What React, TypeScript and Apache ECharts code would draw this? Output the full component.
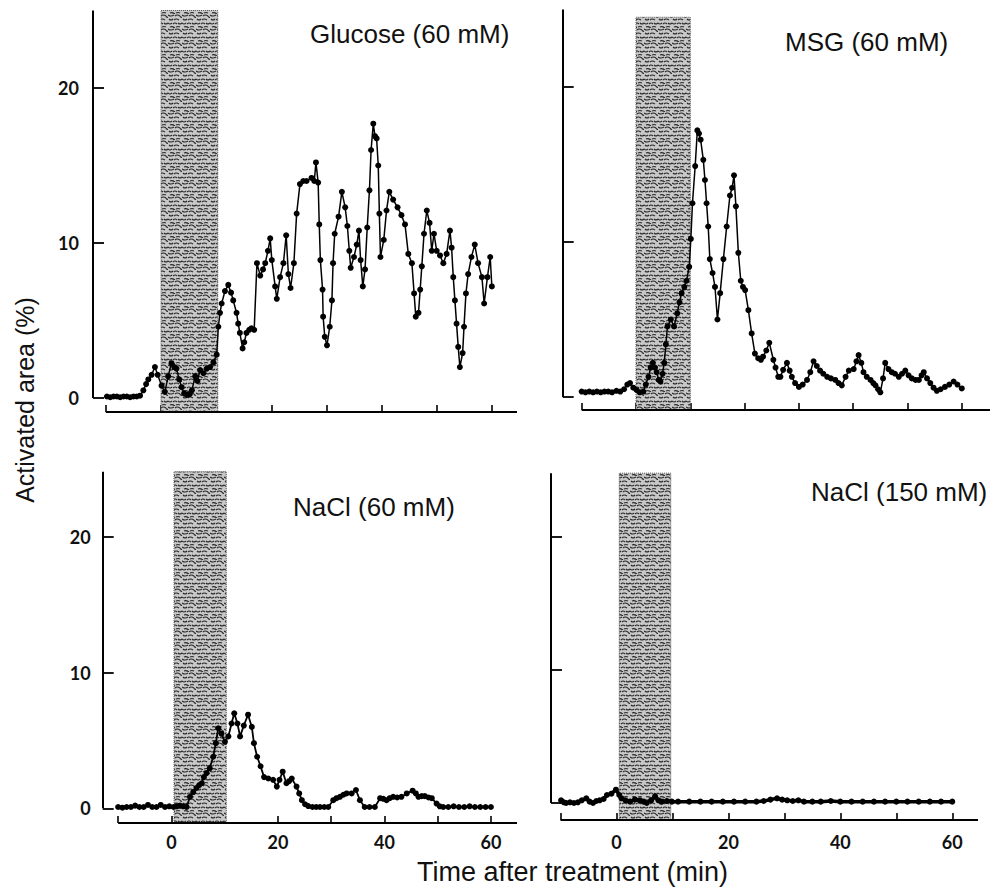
import React, { useEffect, useRef } from "react";
import * as echarts from "echarts";

// ---------- data ----------
const glucoseT = [-9.8,-9.2,-8.6,-8.0,-7.4,-6.8,-6.2,-5.6,-5.0,-4.4,-3.8,-3.2,-2.7,-2.3,-1.7,-1.1,-0.6,0.1,0.7,1.3,1.9,2.4,2.8,3.3,3.75,4.2,4.7,5.2,5.6,6.2,6.6,7.1,7.7,8.3,8.9,9.5,10.1,10.4,10.7,11.0,11.6,12.2,12.7,13.1,13.7,14.0,14.3,14.8,15.1,15.5,16.0,16.4,16.9,17.4,18.0,18.5,18.9,19.4,19.8,20.1,20.7,21.0,21.6,22.2,22.7,23.1,23.5,24.1,24.6,25.2,25.8,26.4,27.3,27.8,28.1,28.5,28.7,28.9,29.3,29.4,29.7,30.1,30.6,31.0,31.2,31.5,32.2,32.8,33.4,33.8,34.15,34.4,35.0,35.5,35.9,36.2,36.6,37.0,37.4,37.8,38.1,38.5,38.8,39.1,39.4,39.6,39.8,40.4,40.9,41.4,42.1,42.9,43.6,44.25,44.85,45.5,45.9,46.2,46.7,47.0,47.3,47.7,48.2,48.7,49.1,49.5,50.0,50.6,51.2,51.8,52.4,52.7,53.0,53.3,53.6,53.9,54.2,54.7,54.95,55.3,55.7,56.3,56.9,57.5,58.2,58.6,59.2,59.7,60.0];
const glucoseV = [0.1,0.05,0.1,0.1,0.05,0.1,0.1,0.05,0.1,0.1,0.15,0.5,0.9,1.2,1.5,2.0,1.5,0.8,0.4,1.4,2.25,2.0,1.9,1.2,0.7,0.3,0.2,0.25,0.5,1.4,1.1,1.8,1.6,1.9,2.0,2.3,2.8,4.6,5.5,6.1,6.9,7.3,6.8,6.3,5.5,4.8,4.2,3.2,3.6,4.2,4.4,4.5,4.4,8.7,7.9,8.3,8.7,9.5,10.3,8.9,7.2,6.4,7.8,8.7,10.5,8.0,7.1,8.7,11.9,13.8,14.0,14.0,14.2,14.0,15.2,13.9,11.2,8.9,7.0,5.25,3.95,3.4,4.6,6.3,8.7,10.6,11.7,13.3,12.3,11.1,9.5,8.4,9.1,9.9,10.8,8.9,7.2,8.3,11.0,13.4,16.0,17.7,16.9,16.75,15.0,11.9,9.1,10.2,12.1,13.3,12.8,12.3,11.8,11.2,9.3,8.7,6.75,5.25,5.5,7.0,8.5,10.6,12.1,11.3,9.5,10.6,9.5,9.2,8.7,9.3,10.8,9.7,7.8,6.3,4.8,3.3,2.0,2.9,4.6,6.75,8.0,9.1,9.9,8.7,7.8,6.1,7.8,9.1,7.2];

const msgT = [-10,-9.3,-8.6,-7.9,-7.2,-6.5,-5.8,-5.1,-4.4,-3.6,-2.9,-2.2,-1.6,-1.1,-0.5,0.1,0.7,1.35,1.8,2.3,2.7,3.1,3.5,3.8,4.2,4.5,4.9,5.2,5.5,5.8,6.4,7.0,7.6,8.0,8.4,8.9,9.3,9.8,10.1,10.4,10.9,11.3,11.6,11.9,12.4,12.7,13.0,13.3,13.6,14.1,14.55,15.0,15.5,16.1,16.7,17.3,17.7,18.05,18.4,18.85,19.3,19.7,20.1,20.7,21.3,21.9,22.5,23.0,23.4,24.0,24.55,25.3,25.7,26.2,26.6,27.1,27.8,28.3,28.7,29.3,30.0,30.7,31.5,32.1,32.7,33.3,33.9,34.5,35.2,35.9,36.7,37.3,37.9,38.6,39.2,40.1,40.6,41.0,41.5,41.9,42.5,43.2,43.7,44.1,44.6,45.0,45.5,45.9,46.5,47.1,47.7,48.4,49.0,49.6,50.2,50.8,51.5,52.1,52.6,53.0,53.6,54.2,54.8,55.4,56.1,56.9,57.7,58.5,59.2,60.0];
const msgV = [0.35,0.3,0.35,0.3,0.35,0.3,0.35,0.35,0.3,0.4,0.35,0.5,0.8,0.9,0.6,0.45,0.3,0.35,0.8,1.3,1.9,2.2,1.9,1.6,1.1,1.0,1.5,2.2,3.4,4.55,5.0,4.55,5.4,6.1,6.7,7.1,7.5,8.4,10.2,12.5,14.9,17.2,17.0,16.6,15.3,14.0,12.5,11.0,8.9,8.0,7.1,5.0,6.7,8.9,11.0,13.0,13.5,14.3,12.3,9.3,7.5,7.1,6.9,5.6,4.1,2.8,2.5,2.4,2.6,3.0,3.5,2.4,1.9,1.3,1.3,1.75,2.2,1.7,1.3,0.9,0.65,0.8,1.1,1.6,2.3,2.0,1.7,1.5,1.3,1.2,1.1,0.9,0.75,1.3,1.7,1.8,2.3,2.7,2.2,1.6,1.3,1.1,0.9,0.75,0.5,0.3,1.2,2.2,1.8,1.6,1.5,1.3,1.5,1.7,1.4,1.2,1.1,1.1,1.4,1.6,1.2,0.9,0.6,0.4,0.5,0.65,0.8,1.0,0.8,0.55];

const nacl60T = [-10,-9.2,-8.4,-7.6,-6.8,-6.0,-5.2,-4.4,-3.6,-2.8,-2.0,-1.2,-0.4,0.4,1.0,1.6,2.2,2.85,3.5,4.1,4.7,5.2,5.7,6.1,6.6,7.2,7.85,8.35,8.8,9.4,10.05,10.7,11.3,11.8,12.4,12.9,13.6,14.4,15.1,15.5,16.1,16.75,17.4,18.2,19.1,19.8,20.3,20.9,21.6,22.1,22.6,23.5,24.0,24.5,25.1,25.7,26.5,27.2,27.9,28.7,29.45,30.4,31.0,31.65,32.3,32.9,33.85,34.65,35.4,36.3,37.2,38.2,39.2,39.8,40.4,41.0,41.65,42.4,43.2,44.2,45.3,45.9,46.4,47.0,47.6,48.3,48.9,49.8,50.4,51.05,52,53,54,55,56,57,58,59,60];
const nacl60V = [0.1,0.05,0.1,0.1,0.2,0.1,0.1,0.25,0.1,0.1,0.25,0.1,0.15,0.1,0.15,0.2,0.15,0.1,0.85,1.2,1.5,1.7,1.85,2.3,2.6,2.95,3.8,4.8,5.9,5.5,4.9,5.3,6.25,7.0,6.25,5.3,6.1,6.9,6.0,4.8,3.8,3.1,2.3,2.2,2.1,1.6,2.1,2.7,1.85,2.0,2.2,1.6,1.1,0.6,0.3,0.17,0.1,0.1,0.1,0.1,0.1,0.6,0.75,0.85,1.0,1.1,1.1,1.35,0.6,0.1,0.1,0.1,0.75,0.7,0.6,0.75,0.85,0.8,0.85,1.1,1.3,1.1,0.85,0.9,0.9,0.8,0.75,0.35,0.15,0.1,0.1,0.15,0.1,0.1,0.15,0.1,0.1,0.1,0.1];

const nacl150T = [-9.9,-9.4,-9.0,-8.3,-7.6,-6.9,-6.2,-5.4,-4.8,-4.2,-3.6,-3.0,-2.3,-1.7,-0.9,-0.1,0.5,0.9,1.6,2.4,3.3,4.2,4.8,5.4,6.2,6.9,7.5,8.1,9.0,9.9,11,13,15,17,19,21,23,25,26.3,27.5,28.7,29.6,30.5,31.5,32.5,33.5,35,36.5,38.3,40,42,44,46,48,50,52,54,56,58,60];
const nacl150V = [0.2,0.05,0.0,0.05,0.0,0.05,0.2,0.35,0.1,0.0,0.15,0.2,0.3,0.6,0.7,1.0,0.6,0.35,0.2,0.1,0.25,0.2,0.1,0.0,0.2,0.5,0.2,0.1,0.15,0.1,0.1,0.1,0.1,0.1,0.1,0.1,0.1,0.1,0.15,0.25,0.35,0.25,0.2,0.15,0.2,0.1,0.1,0.1,0.15,0.1,0.1,0.1,0.1,0.1,0.1,0.1,0.1,0.1,0.1,0.1];

const panelTitles = ["Glucose (60 mM)", "MSG (60 mM)", "NaCl (60 mM)", "NaCl (150 mM)"];
const stimStart = [0, 0, 0.5, 0.5];
const stimEnd = [10.3, 10, 10.3, 9.7];
const yTickValues = [0, 10, 20];
const xTickValues = [-10, 0, 10, 20, 30, 40, 50, 60];
const xLabelValues = [0, 20, 40, 60];
const yAxisTitle = "Activated area (%)";
const xAxisTitle = "Time after treatment (min)";

const seriesT = [glucoseT, msgT, nacl60T, nacl150T];
const seriesV = [glucoseV, msgV, nacl60V, nacl150V];

// ---------- layout (styles / positions) ----------
const layout = [
  { left: 93, top: 10.5, width: 424, height: 401.5, xMin: -12.33, xMax: 64.56, yMin: -0.9, yTop: 25, shadeTop: 25, showX: false, showY: true, xMargin: 10, yMargin: 14, lw: 1.5, title: [310, 34] },
  { left: 562.7, top: 9.5, width: 427.3, height: 400.5, xMin: -13.5, xMax: 65.2, yMin: -0.84, yTop: 25, shadeTop: 24.5, showX: false, showY: false, xMargin: 10, yMargin: 14, lw: 1.5, title: [785, 42] },
  { left: 102.7, top: 469, width: 414.3, height: 354, xMin: -12.9, xMax: 64.9, yMin: -1.08, yTop: 24.8, shadeTop: 24.8, showX: true, showY: true, xMargin: 10, yMargin: 12, lw: 1.8, title: [293, 507] },
  { left: 551, top: 470.5, width: 427, height: 349.5, xMin: -11.7, xMax: 64.6, yMin: -1.28, yTop: 24.8, shadeTop: 24.8, showX: true, showY: false, xMargin: 13, yMargin: 12, lw: 3.5, title: [811, 492] },
];

function makePattern(): HTMLCanvasElement {
  const c = document.createElement("canvas");
  c.width = 14;
  c.height = 14;
  const ctx = c.getContext("2d")!;
  ctx.fillStyle = "#c8c8c8";
  ctx.fillRect(0, 0, 14, 14);
  ctx.strokeStyle = "#2a2a2a";
  ctx.lineWidth = 1.1;
  const worms = [
    [0, 1, 3, 3, 6, 1], [7, 2, 9, 0, 12, 2], [12, 2, 13, 4, 14, 3],
    [1, 5, 3, 7, 5, 5], [6, 6, 8, 4, 11, 6],
    [0, 9, 2, 11, 4, 9], [5, 10, 7, 8, 9, 10], [10, 9, 12, 11, 14, 9],
    [2, 13, 4, 12, 7, 14], [8, 13, 10, 12, 12, 13],
  ];
  for (const w of worms) {
    ctx.beginPath();
    ctx.moveTo(w[0], w[1]);
    ctx.quadraticCurveTo(w[2], w[3], w[4], w[5]);
    ctx.stroke();
  }
  return c;
}

export default function App() {
  const ref = useRef<HTMLDivElement>(null);
  useEffect(() => {
    if (!ref.current) return;
    const chart = echarts.init(ref.current, undefined, { renderer: "svg" });
    const pattern = makePattern();
    const tickFont = { fontFamily: "Lato", fontWeight: "bold" as const, fontSize: 18, color: "#111" };

    const grids = layout.map((p) => ({ left: p.left, top: p.top, width: p.width, height: p.height }));
    const xAxes = layout.map((p, i) => ({
      type: "value",
      gridIndex: i,
      min: p.xMin,
      max: p.xMax,
      position: "bottom",
      axisLine: { show: false, onZero: false },
      splitLine: { show: false },
      axisTick: { show: true, inside: true, length: 7, customValues: xTickValues, lineStyle: { color: "#000", width: 1.6 } },
      axisLabel: { show: p.showX, customValues: xLabelValues, margin: p.xMargin, ...tickFont },
    }));
    const yAxes = layout.map((p, i) => ({
      type: "value",
      gridIndex: i,
      min: p.yMin,
      max: 25,
      position: "left",
      axisLine: { show: false, onZero: false },
      splitLine: { show: false },
      axisTick: { show: true, inside: true, length: 11, customValues: yTickValues, lineStyle: { color: "#000", width: 1.8 } },
      axisLabel: { show: p.showY, customValues: yTickValues, margin: p.yMargin, ...tickFont },
    }));

    const series = layout.map((p, i) => ({
      type: "line",
      xAxisIndex: i,
      yAxisIndex: i,
      data: seriesT[i].map((t, k) => [t, seriesV[i][k]]),
      symbol: "circle",
      symbolSize: 6,
      showSymbol: true,
      clip: false,
      lineStyle: { color: "#000", width: p.lw },
      itemStyle: { color: "#000" },
      z: 5,
      markArea: {
        silent: true,
        itemStyle: {
          color: { image: pattern, repeat: "repeat" },
          borderColor: "#555",
          borderWidth: 1,
          borderType: "dotted",
        },
        data: [[{ coord: [stimStart[i], p.yMin] }, { coord: [stimEnd[i], p.shadeTop] }]],
      },
      markLine: {
        silent: true,
        symbol: ["none", "none"],
        label: { show: false },
        lineStyle: { color: "#000", width: 2, type: "solid" },
        data: [
          [{ coord: [-10, p.yMin] }, { coord: [p.xMax, p.yMin] }],
          [{ coord: [p.xMin, 0] }, { coord: [p.xMin, p.yTop] }],
        ],
      },
    }));

    const graphic: any[] = layout.map((p, i) => ({
      type: "text",
      x: p.title[0],
      y: p.title[1],
      style: {
        text: panelTitles[i],
        fontFamily: "Liberation Sans",
        fontSize: 26,
        fill: "#111",
        align: "left",
        verticalAlign: "middle",
        textAlign: "left",
        textVerticalAlign: "middle",
      },
    }));
    graphic.push({
      type: "text",
      x: 25,
      y: 400,
      rotation: Math.PI / 2,
      style: {
        text: yAxisTitle,
        fontFamily: "Liberation Sans",
        fontSize: 25,
        fill: "#111",
        align: "center",
        verticalAlign: "middle",
        textAlign: "center",
        textVerticalAlign: "middle",
      },
    });
    graphic.push({
      type: "text",
      x: 417,
      y: 872,
      style: {
        text: xAxisTitle,
        fontFamily: "Liberation Sans",
        fontSize: 27,
        fill: "#111",
        align: "left",
        verticalAlign: "middle",
        textAlign: "left",
        textVerticalAlign: "middle",
      },
    });

    chart.setOption({
      animation: false,
      backgroundColor: "#fff",
      grid: grids,
      xAxis: xAxes,
      yAxis: yAxes,
      series,
      graphic,
    } as any);
    return () => chart.dispose();
  }, []);
  return <div ref={ref} style={{ position: "absolute", left: 0, top: 0, width: 1003, height: 893 }} />;
}
